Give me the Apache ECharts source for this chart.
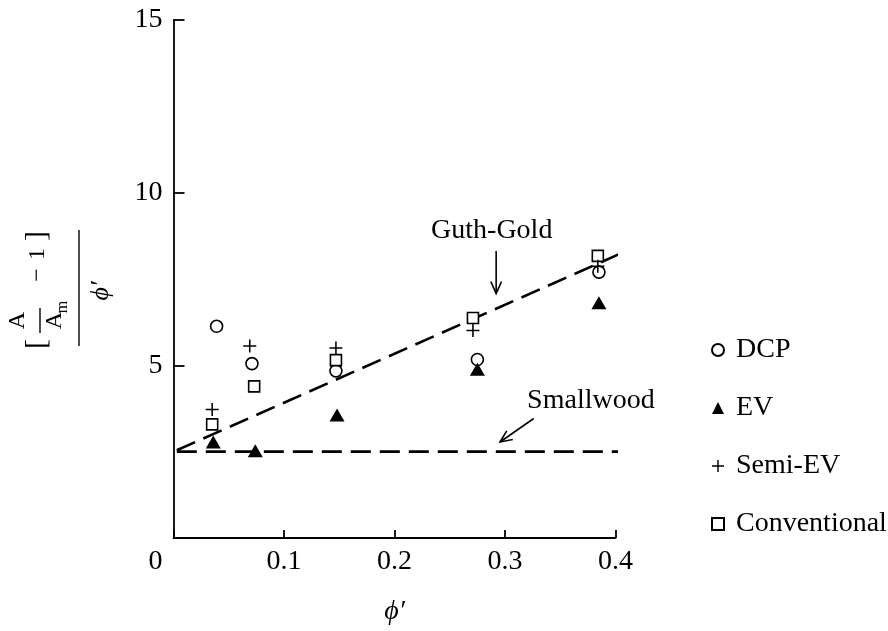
<!DOCTYPE html>
<html><head><meta charset="utf-8">
<script src="https://cdn.jsdelivr.net/npm/echarts/dist/echarts.min.js"></script>
<style>html,body{margin:0;padding:0;background:#fff}#c{width:888px;height:631px}</style>
</head><body><div id="c"></div>
<script>
// ---- data ----
const xTicks = [0, 0.1, 0.2, 0.3, 0.4];
const yTicks = [0, 5, 10, 15];
const seriesNames = ['DCP', 'EV', 'Semi-EV', 'Conventional'];
const dcp = [[0.039, 6.13], [0.071, 5.05], [0.147, 4.84], [0.275, 5.17], [0.385, 7.70]];
const ev = [[0.036, 2.78], [0.074, 2.53], [0.148, 3.56], [0.275, 4.89], [0.385, 6.81]];
const semiEv = [[0.035, 3.72], [0.069, 5.56], [0.147, 5.50], [0.271, 6.01], [0.384, 7.87]];
const conventional = [[0.035, 3.29], [0.073, 4.39], [0.147, 5.15], [0.271, 6.37], [0.384, 8.17]];
const guthGold = [[0.003, 2.54], [0.409, 8.30]];
const smallwood = [[0.003, 2.50], [0.409, 2.50]];
const annotations = {
  guthGoldLabel: [0.288, 8.9], guthGoldArrow: [[0.292, 8.31], [0.292, 7.08]],
  smallwoodLabel: [0.320, 3.99], smallwoodArrow: [[0.326, 3.46], [0.2955, 2.78]]
};

const FONT = '"Liberation Serif", "DejaVu Serif", serif';
const PLUS = 'path://M4.4,0H5.6V4.4H10V5.6H5.6V10H4.4V5.6H0V4.4H4.4Z';

const chart = echarts.init(document.getElementById('c'), null, {renderer: 'canvas'});
const option = {
  animation: false,
  backgroundColor: '#fff',
  grid: {left: 173.5, right: 272.5, top: 20, bottom: 77, containLabel: false},
  xAxis: {
    type: 'value', min: xTicks[0], max: xTicks[xTicks.length - 1], interval: 0.1,
    name: 'ϕ′', nameLocation: 'middle', nameGap: 60,
    nameTextStyle: {fontFamily: FONT, fontStyle: 'italic', fontSize: 28, color: '#000'},
    axisLine: {onZero: false, lineStyle: {color: '#000', width: 1.8}},
    axisTick: {inside: true, length: 8, lineStyle: {color: '#000', width: 1.8}},
    splitLine: {show: false},
    axisLabel: {
      margin: 10, fontFamily: FONT, fontSize: 28, color: '#000',
      formatter: v => v === 0 ? '{o|0}' : String(+v.toFixed(1)),
      rich: {o: {fontFamily: FONT, fontSize: 28, color: '#000', padding: [0, 36, 0, 0]}}
    }
  },
  yAxis: {
    type: 'value', min: yTicks[0], max: yTicks[yTicks.length - 1], interval: 5,
    axisLine: {onZero: false, lineStyle: {color: '#000', width: 1.8}},
    axisTick: {inside: true, length: 11, lineStyle: {color: '#000', width: 1.8}},
    splitLine: {show: false},
    axisLabel: {showMinLabel: false, margin: 11, fontFamily: FONT, fontSize: 28, color: '#000'}
  },
  legend: {
    data: seriesNames, orient: 'vertical', left: 706, top: 331,
    itemWidth: 12, itemHeight: 12, itemGap: 30, selectedMode: false,
    textStyle: {fontFamily: FONT, fontSize: 28, color: '#000', lineHeight: 28, padding: [0, 0, 0, 7]}
  },
  series: [
    {name: 'Guth-Gold', type: 'line', data: guthGold, symbol: 'none', silent: true, clip: false, z: 1,
      lineStyle: {color: '#000', width: 2.6, type: [20, 9]}},
    {name: 'Smallwood', type: 'line', data: smallwood, symbol: 'none', silent: true, clip: false, z: 1,
      lineStyle: {color: '#000', width: 2.6, type: [20, 9]}},
    {name: 'DCP', type: 'scatter', data: dcp, symbol: 'circle', symbolSize: 12, z: 3,
      itemStyle: {color: '#fff', borderColor: '#000', borderWidth: 1.6, opacity: 1}},
    {name: 'EV', type: 'scatter', data: ev, symbol: 'triangle', symbolSize: [15, 13], z: 3,
      itemStyle: {color: '#000', opacity: 1}},
    {name: 'Semi-EV', type: 'scatter', data: semiEv, symbol: PLUS, symbolSize: 13, z: 4,
      itemStyle: {color: '#000', opacity: 1}},
    {name: 'Conventional', type: 'scatter', data: conventional, symbol: 'rect', symbolSize: 11, z: 3,
      itemStyle: {color: '#fff', borderColor: '#000', borderWidth: 1.6, opacity: 1}}
  ]
};
chart.setOption(option);

function px(p) { return chart.convertToPixel({gridIndex: 0}, p); }
function arrow(from, to) {
  const a = px(from), b = px(to);
  const ang = Math.atan2(b[1] - a[1], b[0] - a[0]);
  const L = 13, s = 0.42;
  const h1 = [b[0] - L * Math.cos(ang - s), b[1] - L * Math.sin(ang - s)];
  const h2 = [b[0] - L * Math.cos(ang + s), b[1] - L * Math.sin(ang + s)];
  return [
    {type: 'line', shape: {x1: a[0], y1: a[1], x2: b[0], y2: b[1]}, style: {stroke: '#000', lineWidth: 1.6}},
    {type: 'polyline', shape: {points: [h1, b, h2]}, style: {stroke: '#000', lineWidth: 1.6, fill: null}}
  ];
}
const gg = px(annotations.guthGoldLabel);
const sw = px(annotations.smallwoodLabel);
const T = (text, x, y, size, align) => ({type: 'text', style: {
  text: text, x: x, y: y, fill: '#000', font: size + 'px ' + FONT,
  textAlign: align || 'center', textVerticalAlign: 'middle'
}});

const yName = {
  type: 'group', x: 40, y: 346, rotation: Math.PI / 2,
  children: [
    T('[', 2, -3, 30),
    T('A', 25.5, -22, 24),
    {type: 'line', shape: {x1: 13, y1: 0, x2: 38, y2: 0}, style: {stroke: '#000', lineWidth: 1.4}},
    T('A', 25.5, 15, 24),
    T('m', 39, 23, 16),
    T('−', 71, -2, 24),
    T('1', 92, -2, 24),
    T(']', 110, -3, 30),
    {type: 'line', shape: {x1: 0, y1: 39, x2: 116, y2: 39}, style: {stroke: '#000', lineWidth: 1.4}},
    {type: 'text', style: {text: 'ϕ′', x: 55, y: 61, fill: '#000', font: 'italic 26px ' + FONT, textAlign: 'center', textVerticalAlign: 'middle'}}
  ]
};

chart.setOption({
  graphic: [
    T('Guth-Gold', gg[0], gg[1], 28),
    ...arrow(annotations.guthGoldArrow[0], annotations.guthGoldArrow[1]),
    T('Smallwood', sw[0], sw[1], 28, 'left'),
    ...arrow(annotations.smallwoodArrow[0], annotations.smallwoodArrow[1]),
    yName
  ]
});
</script>
</body></html>
